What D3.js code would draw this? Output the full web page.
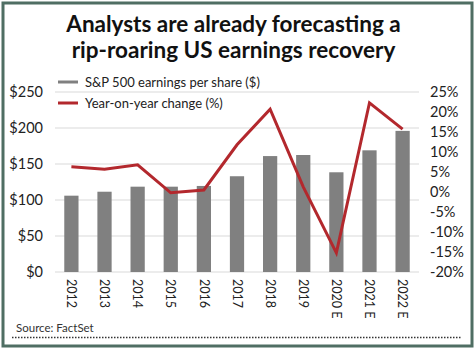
<!DOCTYPE html>
<html>
<head>
<meta charset="utf-8">
<script src="https://cdn.jsdelivr.net/npm/d3@7"></script>
<style>
  body { margin: 0; background: #fff; }
  svg { display: block; font-family: Lato, "Open Sans", sans-serif; }
</style>
</head>
<body>
<svg id="chart" width="475" height="351"></svg>
<script>
var years = ["2012", "2013", "2014", "2015", "2016", "2017", "2018", "2019", "2020 E", "2021 E", "2022 E"];
var eps = [106, 111.5, 118.5, 118.5, 119.5, 133, 161, 162.5, 138.5, 169, 196];
var yoy = [6.3, 5.7, 6.8, -0.2, 0.5, 11.8, 20.7, 1.3, -15.2, 22.3, 15.7];
var leftTicks = [0, 50, 100, 150, 200, 250];
var rightTicks = [-20, -15, -10, -5, 0, 5, 10, 15, 20, 25];

var svg = d3.select("#chart"),
    w = 475, h = 351,
    m = { top: 92, right: 56, bottom: 79, left: 55 };

// frame
svg.append("rect")
    .attr("x", 3).attr("y", 3)
    .attr("width", w - 6).attr("height", h - 8)
    .attr("fill", "#fff")
    .attr("stroke", "#4f6e63")
    .attr("stroke-width", 3);

var title = ["Analysts are already forecasting a", "rip-roaring US earnings recovery"];
svg.selectAll(".title").data(title).enter().append("text")
    .attr("x", w / 2 - 4)
    .attr("y", (d, i) => 32 + i * 26)
    .attr("text-anchor", "middle")
    .attr("font-size", 22.5)
    .attr("font-weight", 700)
    .attr("fill", "#111")
    .text(d => d);

var x = d3.scaleBand().domain(years).range([m.left, w - m.right]).paddingInner(0.57).paddingOuter(0.28);
var yL = d3.scaleLinear().domain([0, 250]).range([h - m.bottom, m.top]);
var yR = d3.scaleLinear().domain([-20, 25]).range([h - m.bottom, m.top]);

// gridlines
svg.append("g").selectAll("line").data(leftTicks).enter().append("line")
    .attr("x1", m.left).attr("x2", w - m.right)
    .attr("y1", d => yL(d)).attr("y2", d => yL(d))
    .attr("stroke", "#d9d9d9").attr("stroke-width", 1);

// bars
svg.append("g").selectAll("rect").data(eps).enter().append("rect")
    .attr("x", (d, i) => x(years[i]))
    .attr("width", x.bandwidth())
    .attr("y", d => yL(d))
    .attr("height", d => yL(0) - yL(d))
    .attr("fill", "#808080");

// line
var line = d3.line()
    .x((d, i) => x(years[i]) + x.bandwidth() / 2)
    .y(d => yR(d));
svg.append("path").datum(yoy)
    .attr("fill", "none")
    .attr("stroke", "#b3282d")
    .attr("stroke-width", 3)
    .attr("stroke-linejoin", "miter")
    .attr("d", line);

var font = "Lato, sans-serif";

// left axis
var axL = svg.append("g").attr("transform", "translate(" + (m.left - 9) + ",0)")
    .call(d3.axisLeft(yL).tickValues(leftTicks).tickSize(0).tickFormat(d => "$" + d));
axL.select(".domain").remove();
axL.selectAll("text").attr("font-size", 14.5).attr("fill", "#222").attr("font-family", font);

// right axis
var axR = svg.append("g").attr("transform", "translate(" + (w - m.right + 8) + ",0)")
    .call(d3.axisRight(yR).tickValues(rightTicks).tickSize(0).tickFormat(d => d + "%"));
axR.select(".domain").remove();
axR.selectAll("text").attr("font-size", 14.5).attr("fill", "#222").attr("font-family", font);

// x axis
var axX = svg.append("g").attr("transform", "translate(0," + (h - m.bottom) + ")")
    .call(d3.axisBottom(x).tickSize(0));
axX.select(".domain").remove();
axX.selectAll("text")
    .attr("font-size", 12.5).attr("fill", "#222").attr("font-family", font)
    .attr("text-anchor", "start")
    .attr("dy", "0.35em")
    .attr("transform", "translate(0,7) rotate(90)")
    .attr("x", 0).attr("y", 0);

// legend
var legend = [
  { label: "S&P 500 earnings per share ($)", color: "#808080" },
  { label: "Year-on-year change (%)", color: "#b3282d" }
];
var lg = svg.append("g").selectAll("g").data(legend).enter().append("g")
    .attr("transform", (d, i) => "translate(58," + (82 + i * 21) + ")");
lg.append("line").attr("x1", 0).attr("x2", 20)
    .attr("stroke", d => d.color).attr("stroke-width", 3);
lg.append("text").attr("x", 27).attr("dy", "0.35em")
    .attr("font-size", 13).attr("fill", "#222")
    .text(d => d.label);

// source
svg.append("text").attr("x", 16).attr("y", 332)
    .attr("font-size", 11.5).attr("fill", "#333")
    .text("Source: FactSet");
svg.append("line").attr("x1", 12).attr("x2", 462).attr("y1", 337.5).attr("y2", 337.5)
    .attr("stroke", "#333").attr("stroke-width", 1.5).attr("stroke-dasharray", "1.5,1.5");
</script>
</body>
</html>
